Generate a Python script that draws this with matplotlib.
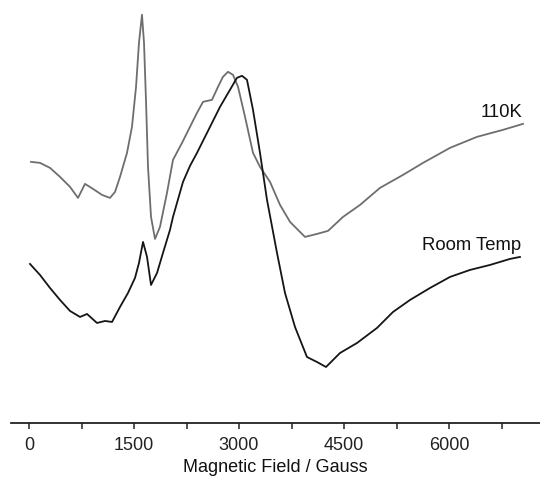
import matplotlib
matplotlib.use("Agg")
import matplotlib.pyplot as plt
from matplotlib.ticker import MultipleLocator

plt.rcParams['font.family'] = ['Liberation Sans', 'DejaVu Sans']

# 110K spectrum (field in Gauss, signal in arbitrary units incl. vertical offset)
field_110k = [29, 157, 300, 443, 586, 700, 800, 914, 1043, 1157, 1229, 1300, 1400, 1471,
              1529, 1571, 1614, 1643, 1671, 1700, 1743, 1800, 1871, 1971, 2057, 2186,
              2300, 2400, 2486, 2614, 2700, 2771, 2843, 2914, 2986, 3086, 3200, 3300,
              3443, 3586, 3729, 3943, 4114, 4271, 4486, 4729, 5014, 5343, 5629, 6014,
              6400, 6771, 7057]
signal_110k = [261, 260, 255, 246, 236, 225, 239, 234, 228, 225, 231, 246, 270, 296,
               336, 380, 408, 380, 323, 256, 206, 184, 196, 230, 263, 280,
               296, 310, 321, 323, 336, 346, 351, 348, 336, 306, 270, 256,
               241, 218, 201, 186, 189, 192, 206, 218, 235, 248, 260, 275,
               286, 293, 299]

# Room temperature spectrum
field_rt = [14, 157, 300, 443, 586, 729, 829, 971, 1086, 1186, 1300, 1414, 1514, 1571,
            1629, 1686, 1743, 1829, 1914, 2014, 2057, 2200, 2300, 2400, 2586, 2729,
            2871, 2971, 3043, 3114, 3200, 3300, 3400, 3543, 3657, 3800, 3971,
            4114, 4243, 4443, 4686, 4971, 5200, 5443, 5729, 6014, 6300, 6586, 6871, 7014]
signal_rt = [159, 148, 135, 123, 112, 106, 109, 100, 102, 101, 116, 130, 145, 160,
             181, 166, 138, 150, 170, 193, 206, 241, 257, 270, 296, 316,
             333, 345, 347, 343, 313, 270, 223, 170, 130, 96, 66,
             61, 56, 70, 80, 95, 111, 123, 135, 146, 153, 158, 164, 166]

xticks = [0, 1500, 3000, 4500, 6000]

fig = plt.figure(figsize=(5.4, 4.78), dpi=100)
ax = fig.add_axes([0.0204, 0.115, 0.9796, 0.875])

ax.plot(field_110k, signal_110k, color='#6e6e6e', lw=1.3, solid_joinstyle='round')
ax.plot(field_rt, signal_rt, color='#151515', lw=1.3, solid_joinstyle='round')

ax.text(7043, 306, '110K', ha='right', va='baseline', fontsize=13.3, color='#111111')
ax.text(7029, 173, 'Room Temp', ha='right', va='baseline', fontsize=13.3, color='#111111')

ax.set_xlim(-257, 7300)
ax.set_ylim(0, 418)
ax.set_xticks(xticks)
ax.set_xticklabels([str(t) for t in xticks])
ax.xaxis.set_minor_locator(MultipleLocator(750))
ax.tick_params(axis='x', which='both', direction='out', length=4, width=1.1,
               labelsize=13, pad=6, colors='#222222')
ax.set_yticks([])
for s in ['left', 'right', 'top']:
    ax.spines[s].set_visible(False)
ax.spines['bottom'].set_linewidth(1.3)
ax.spines['bottom'].set_color('#222222')
ax.set_xlabel('Magnetic Field / Gauss', fontsize=13, labelpad=4, color='#111111')

fig.savefig('out.png', dpi=100)
